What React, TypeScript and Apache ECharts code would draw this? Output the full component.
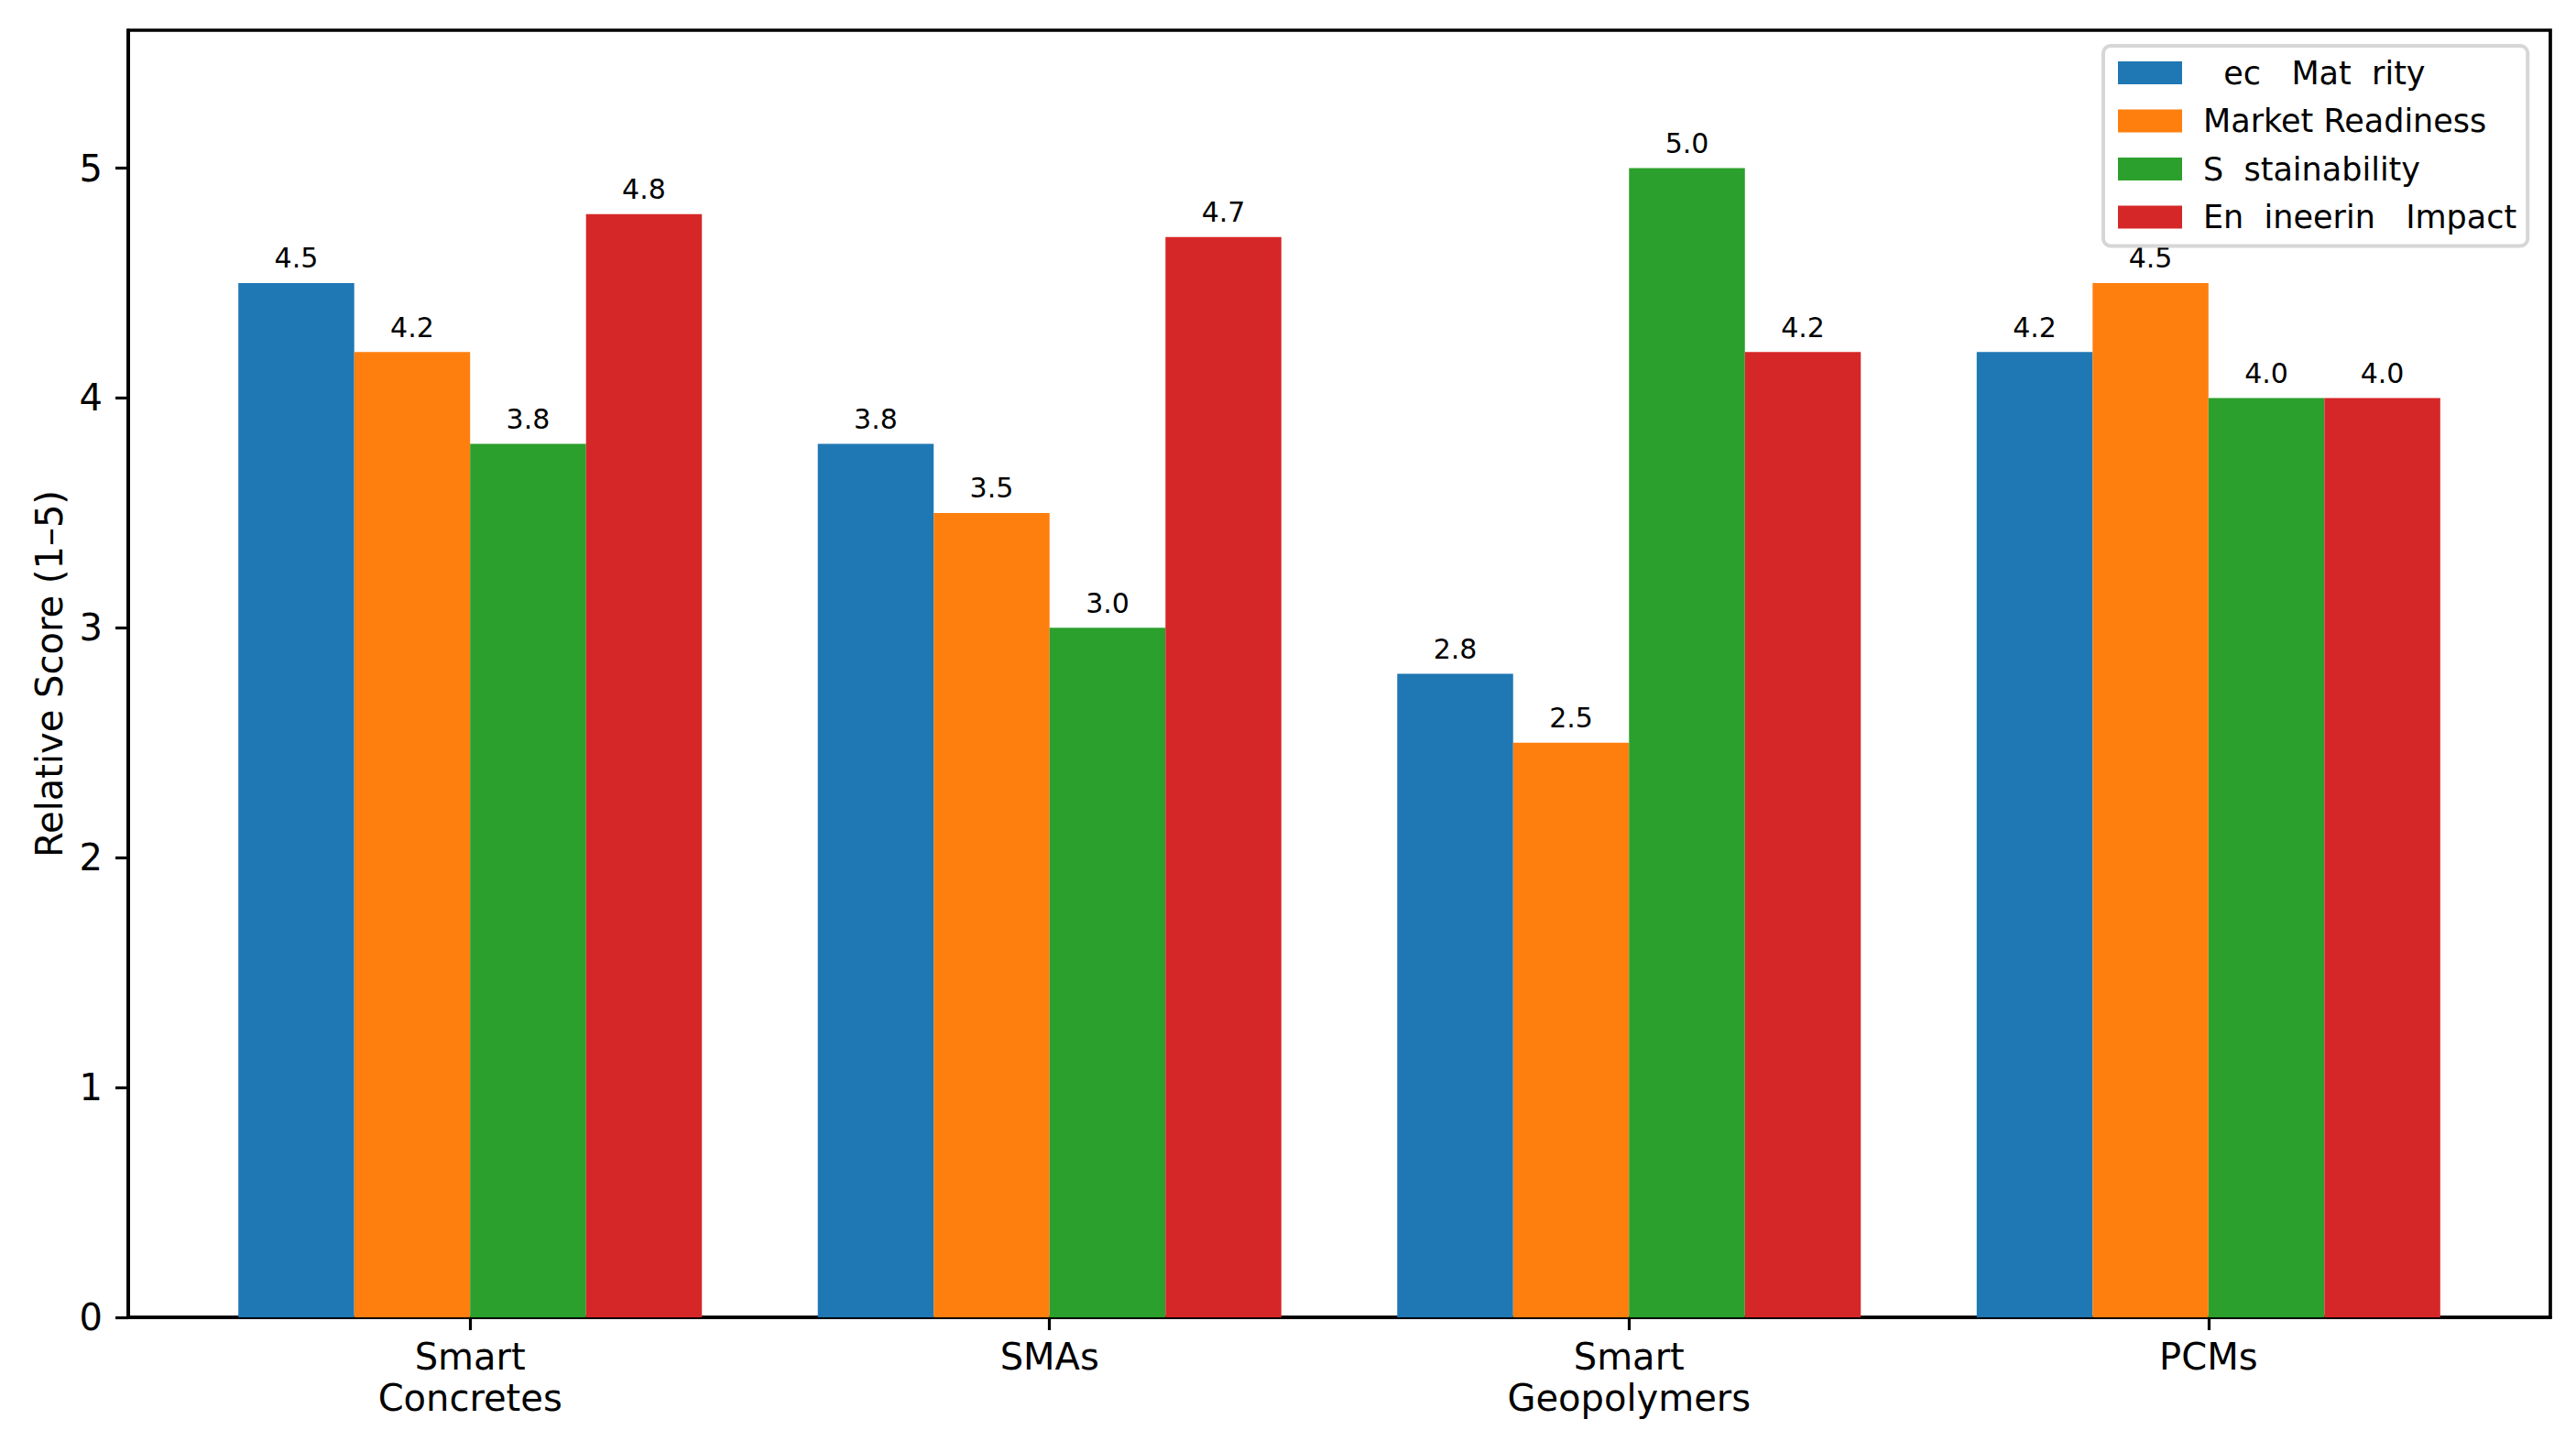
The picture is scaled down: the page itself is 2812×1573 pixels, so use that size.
import React, { useEffect, useRef } from "react";
import * as echarts from "echarts";

const categories = ["Smart\nConcretes", "SMAs", "Smart\nGeopolymers", "PCMs"];
const seriesNames = [
  "\u00a0\u00a0ec\u00a0\u00a0\u00a0Mat\u00a0\u00a0rity",
  "Market Readiness",
  "S\u00a0\u00a0stainability",
  "En\u00a0\u00a0ineerin\u00a0\u00a0\u00a0Impact",
];
const techMaturity = [4.5, 3.8, 2.8, 4.2];
const marketReadiness = [4.2, 3.5, 2.5, 4.5];
const sustainability = [3.8, 3.0, 5.0, 4.0];
const engineeringImpact = [4.8, 4.7, 4.2, 4.0];
const yTicks = [0, 1, 2, 3, 4, 5];
const colors = ["#1f77b4", "#ff7f0e", "#2ca02c", "#d62728"];
const offsets = [-0.3, -0.1, 0.1, 0.3];

const FONT = "DejaVu Sans";

export default function App() {
  const ref = useRef<HTMLDivElement>(null);
  useEffect(() => {
    document.body.style.margin = "0";
    const chart = echarts.init(ref.current!, null, { renderer: "svg" });
    const allValues = [techMaturity, marketReadiness, sustainability, engineeringImpact];
    const xIdx = categories.map((_, i) => i);
    chart.setOption({
      animation: false,
      backgroundColor: "#ffffff",
      textStyle: { fontFamily: FONT },
      grid: {
        left: 140,
        right: 28,
        top: 33,
        bottom: 135,
        show: true,
        borderColor: "#000000",
        borderWidth: 3.7,
        backgroundColor: "transparent",
      },
      legend: {
        orient: "vertical",
        left: 2296,
        top: 50,
        padding: [12, 12, 14, 16],
        itemWidth: 70,
        itemHeight: 25,
        itemGap: 17.5,
        icon: "rect",
        backgroundColor: "#ffffff",
        borderColor: "#d6d6d6",
        borderWidth: 4,
        borderRadius: 8,
        textStyle: {
          fontFamily: FONT,
          fontSize: 35,
          lineHeight: 35,
          color: "#000000",
          padding: [0, 0, 0, 18],
        },
        data: seriesNames,
      },
      xAxis: {
        type: "value",
        min: -0.59,
        max: 3.59,
        splitLine: { show: false },
        axisLine: { show: true, onZero: false, lineStyle: { color: "#000000", width: 3.7 } },
        axisTick: {
          show: true,
          length: 14,
          lineStyle: { color: "#000000", width: 3.2 },
          customValues: xIdx,
        },
        axisLabel: {
          customValues: xIdx,
          margin: 20,
          fontFamily: FONT,
          fontSize: 40,
          lineHeight: 45,
          color: "#000000",
          align: "center",
          formatter: (v: number) => categories[Math.round(v)] ?? "",
        },
      },
      yAxis: {
        type: "value",
        min: 0,
        max: 5.6,
        name: "Relative Score (1\u20135)",
        nameLocation: "middle",
        nameGap: 66,
        nameRotate: 90,
        nameTextStyle: { fontFamily: FONT, fontSize: 40, color: "#000000" },
        splitLine: { show: false },
        axisLine: { show: true, onZero: false, lineStyle: { color: "#000000", width: 3.7 } },
        axisTick: {
          show: true,
          length: 14,
          lineStyle: { color: "#000000", width: 3.2 },
          customValues: yTicks,
        },
        axisLabel: {
          customValues: yTicks,
          margin: 28,
          fontFamily: FONT,
          fontSize: 40,
          color: "#000000",
        },
      },
      series: allValues.map((vals, k) => ({
        name: seriesNames[k],
        type: "bar",
        barWidth: 126.5,
        barGap: "-100%",
        itemStyle: { color: colors[k] },
        label: {
          show: true,
          position: "top",
          distance: 12,
          fontFamily: FONT,
          fontSize: 30,
          color: "#000000",
          formatter: (p: any) => Number(p.value[1]).toFixed(1),
        },
        data: vals.map((v, i) => [i + offsets[k], v]),
      })),
    });
    return () => chart.dispose();
  }, []);
  return <div ref={ref} style={{ width: 2812, height: 1573 }} />;
}
